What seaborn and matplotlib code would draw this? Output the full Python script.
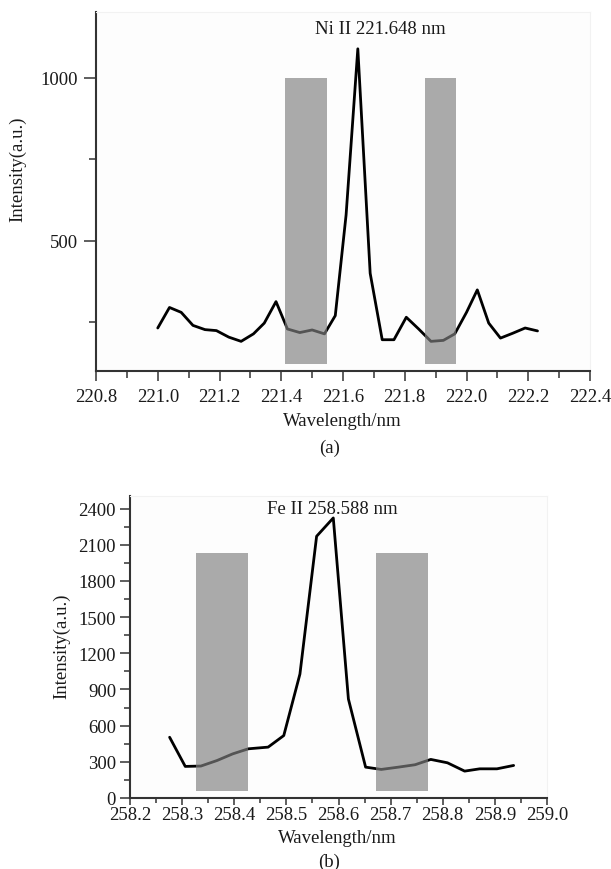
import numpy as np
import pandas as pd
import matplotlib
matplotlib.use("Agg")
import matplotlib.pyplot as plt
from matplotlib.ticker import MultipleLocator, FixedLocator, FormatStrFormatter
import seaborn as sns

# ---------------- data ----------------
# (a) Ni II spectrum
wl_a = [221.000, 221.038, 221.076, 221.114, 221.153, 221.190, 221.230, 221.270,
        221.310, 221.345, 221.383, 221.420, 221.460, 221.500, 221.540, 221.575,
        221.610, 221.648, 221.688, 221.727, 221.765, 221.805, 221.845, 221.885,
        221.925, 221.962, 222.000, 222.035, 222.072, 222.110, 222.150, 222.190,
        222.230]
int_a = [232, 295, 280, 240, 227, 224, 204, 191,
         214, 247, 313, 229, 218, 226, 214, 270,
         579, 1089, 400, 196, 196, 265, 229, 191,
         194, 214, 280, 349, 247, 201, 216, 232,
         223]
win_a = [(221.411, 221.547), (221.865, 221.965)]
win_a_y = (122, 1000)
title_a = "Ni II 221.648 nm"
title_a_pos = (221.722, 1150)

# (b) Fe II spectrum
wl_b = [258.276, 258.306, 258.336, 258.367, 258.397, 258.427, 258.465, 258.495,
        258.526, 258.558, 258.590, 258.619, 258.652, 258.682, 258.715, 258.747,
        258.777, 258.809, 258.842, 258.871, 258.904, 258.936]
int_b = [504, 262, 265, 311, 366, 408, 422, 518,
         1028, 2171, 2323, 821, 256, 237, 256, 276,
         320, 292, 223, 242, 242, 270]
win_b = [(258.326, 258.426), (258.672, 258.771)]
win_b_y = (58, 2034)
title_b = "Fe II 258.588 nm"
title_b_pos = (258.588, 2405)

df_a = pd.DataFrame({"wl": wl_a, "I": int_a})
df_b = pd.DataFrame({"wl": wl_b, "I": int_b})

# ---------------- style ----------------
sns.set_theme(style="ticks")
plt.rcParams["font.family"] = ["Liberation Serif", "DejaVu Serif"]
TXT = "#1a1a1a"
plt.rcParams.update({"text.color": TXT, "axes.labelcolor": TXT,
                     "xtick.labelcolor": TXT, "ytick.labelcolor": TXT})
FS = 13.5
W, H = 611, 870
fig = plt.figure(figsize=(W / 100, H / 100), dpi=100)

AX1 = (96, 590, 13, 372)    # left, right, top, bottom in pixels
AX2 = (130, 547, 497, 799)

def px_axes(box):
    left, right, top, bottom = box
    return fig.add_axes([left / W, 1 - bottom / H, (right - left) / W, (bottom - top) / H])

ax1 = px_axes(AX1)
ax2 = px_axes(AX2)

def style(ax):
    ax.set_facecolor("#fdfdfd")
    for s in ("left", "bottom"):
        ax.spines[s].set_color("#333333")
        ax.spines[s].set_linewidth(1.5)
    for s in ("top", "right"):
        ax.spines[s].set_color("#f2f2f2")
        ax.spines[s].set_linewidth(0.8)
    ax.tick_params(axis="both", which="both", direction="out", color="#333333",
                   labelsize=FS, width=1.1, top=False, right=False, labelcolor=TXT)
    ax.grid(False)

for ax, df, wins, wy, title, tpos in (
        (ax1, df_a, win_a, win_a_y, title_a, title_a_pos),
        (ax2, df_b, win_b, win_b_y, title_b, title_b_pos)):
    sns.lineplot(data=df, x="wl", y="I", ax=ax, color="black", linewidth=2.0,
                 zorder=2, legend=False)
    for x0, x1 in wins:
        ax.fill_between([x0, x1], wy[0], wy[1], color="#808080", alpha=0.66,
                        linewidth=0, zorder=3)
    ax.text(tpos[0], tpos[1], title, ha="center", va="center", fontsize=FS, color=TXT)
    style(ax)
    ax.set_ylabel("Intensity(a.u.)", fontsize=FS, color=TXT)
    ax.set_xlabel("Wavelength/nm", fontsize=FS, va="center", color=TXT)

# axis (a)
ax1.set_xlim(220.8, 222.4)
ax1.set_ylim(100, 1202)
ax1.xaxis.set_major_locator(MultipleLocator(0.2))
ax1.xaxis.set_minor_locator(MultipleLocator(0.1))
ax1.xaxis.set_major_formatter(FormatStrFormatter("%.1f"))
ax1.yaxis.set_major_locator(FixedLocator([500, 1000]))
ax1.yaxis.set_minor_locator(FixedLocator([250, 750]))
ax1.tick_params(axis="x", which="major", length=7, pad=5)
ax1.tick_params(axis="x", which="minor", length=5)
ax1.tick_params(axis="y", which="major", length=9, pad=4)
ax1.tick_params(axis="y", which="minor", length=5)
w1 = AX1[1] - AX1[0]; h1 = AX1[3] - AX1[2]
ax1.yaxis.set_label_coords((26 - AX1[0]) / w1, (AX1[3] - 169) / h1)
ax1.xaxis.set_label_coords((342 - AX1[0]) / w1, (AX1[3] - 422) / h1)

# axis (b)
ax2.set_xlim(258.2, 259.0)
ax2.set_ylim(0, 2505)
ax2.xaxis.set_major_locator(MultipleLocator(0.1))
ax2.xaxis.set_minor_locator(MultipleLocator(0.05))
ax2.xaxis.set_major_formatter(FormatStrFormatter("%.1f"))
ax2.yaxis.set_major_locator(MultipleLocator(300))
ax2.yaxis.set_minor_locator(MultipleLocator(150))
ax2.tick_params(axis="x", which="major", length=5, pad=1)
ax2.tick_params(axis="x", which="minor", length=3.5)
ax2.tick_params(axis="y", which="major", length=7, pad=3)
ax2.tick_params(axis="y", which="minor", length=4)
w2 = AX2[1] - AX2[0]; h2 = AX2[3] - AX2[2]
ax2.yaxis.set_label_coords((70 - AX2[0]) / w2, (AX2[3] - 646) / h2)
ax2.xaxis.set_label_coords((337 - AX2[0]) / w2, (AX2[3] - 839) / h2)

fig.text(330 / W, 1 - 448 / H, "(a)", ha="center", va="center", fontsize=FS, color=TXT)
fig.text(329 / W, 1 - 862 / H, "(b)", ha="center", va="center", fontsize=FS, color=TXT)

fig.savefig("out.png", dpi=100, facecolor="white")
